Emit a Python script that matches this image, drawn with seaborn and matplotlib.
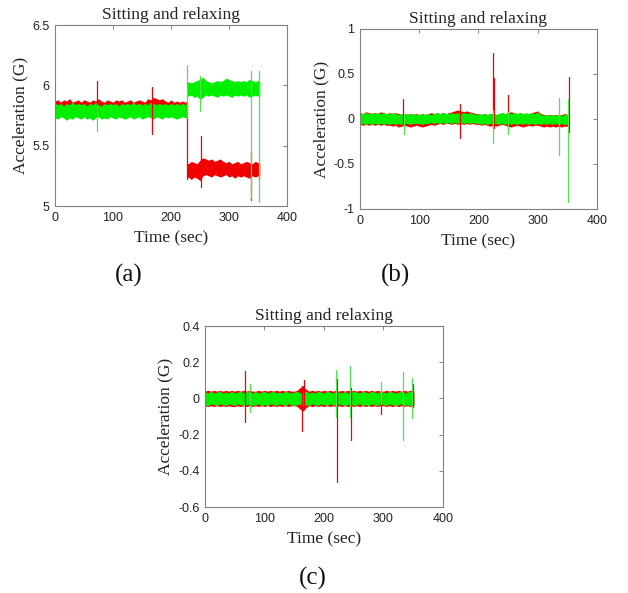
import numpy as np
import pandas as pd
import matplotlib
matplotlib.use("Agg")
import matplotlib.pyplot as plt
import seaborn as sns

# ---------------- data ----------------
TITLE = "Sitting and relaxing"
XLABEL = "Time (sec)"
YLABEL = "Acceleration (G)"
PANEL_LABELS = ["(a)", "(b)", "(c)"]

x_ticks = [0, 100, 200, 300, 400]
y_ticks_a = [5, 5.5, 6, 6.5]
y_ticklabels_a = ["5", "5.5", "6", "6.5"]
y_ticks_b = [-1, -0.5, 0, 0.5, 1]
y_ticklabels_b = ["-1", "-0.5", "0", "0.5", "1"]
y_ticks_c = [-0.6, -0.4, -0.2, 0, 0.2, 0.4]
y_ticklabels_c = ["-0.6", "-0.4", "-0.2", "0", "0.2", "0.4"]

# ---- panel (a): noise-band envelopes, before and after the step at ~227 s
t_a1 = [0, 5, 10, 15, 20, 25, 30, 35, 40, 45,
        50, 55, 60, 65, 70, 75, 80, 85, 90, 95,
        100, 105, 110, 115, 120, 125, 130, 135, 140, 145,
        150, 155, 160, 165, 170, 175, 180, 185, 190, 195,
        200, 205, 210, 215, 220, 225, 226.5]
red_a1_hi = [5.87, 5.88, 5.86, 5.88, 5.87, 5.89, 5.86, 5.87, 5.88, 5.86,
             5.88, 5.87, 5.86, 5.88, 5.87, 5.89, 5.87, 5.86, 5.88, 5.87,
             5.86, 5.88, 5.87, 5.88, 5.86, 5.87, 5.88, 5.86, 5.87, 5.88,
             5.87, 5.86, 5.89, 5.88, 5.90, 5.89, 5.88, 5.89, 5.87, 5.86,
             5.88, 5.86, 5.87, 5.86, 5.87, 5.86, 5.87]
red_a1_lo = [5.80, 5.79, 5.80, 5.78, 5.80, 5.79, 5.80, 5.79, 5.78, 5.80,
             5.79, 5.80, 5.78, 5.79, 5.80, 5.79, 5.80, 5.78, 5.79, 5.80,
             5.79, 5.80, 5.79, 5.78, 5.80, 5.79, 5.80, 5.79, 5.78, 5.80,
             5.79, 5.80, 5.78, 5.79, 5.80, 5.79, 5.78, 5.80, 5.79, 5.80,
             5.79, 5.80, 5.79, 5.78, 5.80, 5.79, 5.80]
green_a1_hi = [5.85, 5.84, 5.85, 5.83, 5.85, 5.84, 5.86, 5.84, 5.85, 5.84,
               5.85, 5.83, 5.85, 5.84, 5.86, 5.84, 5.83, 5.85, 5.84, 5.85,
               5.84, 5.85, 5.83, 5.85, 5.84, 5.85, 5.84, 5.86, 5.84, 5.85,
               5.84, 5.85, 5.84, 5.86, 5.85, 5.84, 5.85, 5.84, 5.85, 5.84,
               5.85, 5.84, 5.85, 5.84, 5.85, 5.84, 5.85]
green_a1_lo = [5.73, 5.72, 5.74, 5.73, 5.71, 5.73, 5.72, 5.74, 5.73, 5.72,
               5.74, 5.72, 5.73, 5.71, 5.73, 5.74, 5.72, 5.73, 5.72, 5.74,
               5.73, 5.72, 5.74, 5.73, 5.72, 5.73, 5.74, 5.72, 5.73, 5.74,
               5.72, 5.73, 5.74, 5.73, 5.72, 5.74, 5.73, 5.72, 5.74, 5.73,
               5.74, 5.73, 5.72, 5.73, 5.74, 5.73, 5.73]
t_a2 = [227, 230, 235, 240, 245, 250, 255, 260, 265, 270,
        275, 280, 285, 290, 295, 300, 305, 310, 315, 320,
        325, 330, 335, 340, 345, 350, 353]
red_a2_hi = [5.36, 5.35, 5.37, 5.36, 5.35, 5.38, 5.40, 5.39, 5.38, 5.39,
             5.37, 5.38, 5.39, 5.37, 5.36, 5.37, 5.35, 5.36, 5.37, 5.35,
             5.36, 5.37, 5.36, 5.35, 5.37, 5.36, 5.35]
red_a2_lo = [5.23, 5.24, 5.22, 5.24, 5.23, 5.21, 5.25, 5.26, 5.25, 5.24,
             5.26, 5.25, 5.24, 5.25, 5.26, 5.24, 5.25, 5.23, 5.25, 5.24,
             5.25, 5.24, 5.23, 5.25, 5.24, 5.25, 5.25]
green_a2_hi = [6.02, 6.03, 6.02, 6.03, 6.04, 6.05, 6.07, 6.04, 6.03, 6.02,
               6.03, 6.04, 6.03, 6.04, 6.06, 6.05, 6.04, 6.03, 6.04, 6.03,
               6.04, 6.03, 6.05, 6.04, 6.03, 6.04, 6.03]
green_a2_lo = [5.92, 5.91, 5.92, 5.90, 5.91, 5.88, 5.90, 5.92, 5.91, 5.92,
               5.91, 5.90, 5.92, 5.91, 5.92, 5.91, 5.90, 5.92, 5.91, 5.92,
               5.91, 5.92, 5.90, 5.91, 5.92, 5.91, 5.91]
red_a_spk_t = [72, 168, 227, 251, 338, 352]
red_a_spk_lo = [5.78, 5.60, 5.22, 5.16, 5.05, 5.22]
red_a_spk_hi = [6.04, 5.99, 5.86, 5.58, 5.46, 5.36]
green_a_spk_t = [72, 227, 250, 338, 352]
green_a_spk_lo = [5.62, 5.73, 5.79, 5.07, 5.03]
green_a_spk_hi = [5.84, 6.17, 6.08, 6.12, 6.12]

# ---- panels (b) and (c): common time grid of the envelopes
t_bc = [0, 5, 10, 15, 20, 25, 30, 35, 40, 45,
        50, 55, 60, 65, 70, 75, 80, 85, 90, 95,
        100, 105, 110, 115, 120, 125, 130, 135, 140, 145,
        150, 155, 160, 165, 170, 175, 180, 185, 190, 195,
        200, 205, 210, 215, 220, 225, 230, 235, 240, 245,
        250, 255, 260, 265, 270, 275, 280, 285, 290, 295,
        300, 305, 310, 315, 320, 325, 330, 335, 340, 345,
        351]

red_b_hi = [0.07, 0.06, 0.08, 0.07, 0.06, 0.07, 0.06, 0.08, 0.07, 0.06,
            0.07, 0.06, 0.07, 0.06, 0.05, 0.06, 0.05, 0.06, 0.05, 0.06,
            0.05, 0.06, 0.05, 0.06, 0.07, 0.06, 0.07, 0.06, 0.07, 0.06,
            0.07, 0.08, 0.09, 0.10, 0.09, 0.08, 0.09, 0.08, 0.07, 0.06,
            0.06, 0.05, 0.06, 0.05, 0.06, 0.06, 0.05, 0.06, 0.07, 0.06,
            0.07, 0.08, 0.07, 0.06, 0.07, 0.06, 0.05, 0.06, 0.07, 0.08,
            0.09, 0.06, 0.05, 0.04, 0.05, 0.04, 0.05, 0.04, 0.05, 0.06,
            0.05]
red_b_lo = [-0.06, -0.07, -0.06, -0.07, -0.06, -0.07, -0.06, -0.07, -0.06, -0.07,
            -0.07, -0.08, -0.07, -0.09, -0.08, -0.07, -0.08, -0.09, -0.08, -0.07,
            -0.08, -0.09, -0.08, -0.07, -0.06, -0.07, -0.06, -0.05, -0.06, -0.05,
            -0.05, -0.06, -0.05, -0.06, -0.05, -0.06, -0.05, -0.06, -0.05, -0.06,
            -0.06, -0.07, -0.06, -0.07, -0.08, -0.07, -0.08, -0.07, -0.06, -0.07,
            -0.08, -0.09, -0.08, -0.07, -0.08, -0.09, -0.08, -0.07, -0.08, -0.07,
            -0.07, -0.08, -0.09, -0.08, -0.09, -0.08, -0.09, -0.08, -0.09, -0.08,
            -0.08]
green_b_hi = [0.07, 0.06, 0.07, 0.06, 0.07, 0.06, 0.07, 0.06, 0.07, 0.06,
              0.06, 0.07, 0.06, 0.05, 0.06, 0.05, 0.06, 0.05, 0.06, 0.05,
              0.05, 0.06, 0.05, 0.06, 0.05, 0.06, 0.07, 0.06, 0.07, 0.06,
              0.06, 0.07, 0.06, 0.07, 0.06, 0.07, 0.06, 0.07, 0.06, 0.05,
              0.06, 0.05, 0.06, 0.05, 0.06, 0.06, 0.05, 0.06, 0.07, 0.06,
              0.07, 0.06, 0.07, 0.06, 0.07, 0.06, 0.07, 0.06, 0.07, 0.06,
              0.08, 0.05, 0.04, 0.05, 0.04, 0.05, 0.04, 0.05, 0.04, 0.05,
              0.05]
green_b_lo = [-0.06, -0.05, -0.06, -0.05, -0.06, -0.05, -0.06, -0.05, -0.06, -0.05,
              -0.06, -0.05, -0.06, -0.05, -0.06, -0.05, -0.05, -0.06, -0.05, -0.05,
              -0.05, -0.06, -0.05, -0.05, -0.04, -0.05, -0.04, -0.05, -0.04, -0.05,
              -0.04, -0.05, -0.04, -0.05, -0.04, -0.05, -0.04, -0.05, -0.04, -0.05,
              -0.05, -0.06, -0.05, -0.06, -0.05, -0.06, -0.05, -0.06, -0.05, -0.06,
              -0.05, -0.06, -0.05, -0.06, -0.05, -0.06, -0.05, -0.06, -0.05, -0.06,
              -0.05, -0.06, -0.05, -0.06, -0.05, -0.06, -0.05, -0.06, -0.05, -0.06,
              -0.06]
red_b_spk_t = [73, 168, 224, 226, 250, 352]
red_b_spk_lo = [-0.05, -0.21, -0.05, -0.10, -0.14, -0.15]
red_b_spk_hi = [0.22, 0.17, 0.73, 0.45, 0.27, 0.47]
green_b_spk_t = [74, 224, 249, 336, 351]
green_b_spk_lo = [-0.17, -0.27, -0.17, -0.40, -0.92]
green_b_spk_hi = [0.05, 0.10, 0.08, 0.23, 0.22]

red_c_hi = [0.04, 0.045, 0.04, 0.045, 0.04, 0.045, 0.04, 0.045, 0.04, 0.045,
            0.04, 0.045, 0.04, 0.045, 0.04, 0.045, 0.04, 0.04, 0.045, 0.04,
            0.045, 0.04, 0.045, 0.04, 0.045, 0.04, 0.045, 0.04, 0.045, 0.04,
            0.04, 0.045, 0.06, 0.07, 0.05, 0.04, 0.045, 0.04, 0.045, 0.04,
            0.045, 0.04, 0.045, 0.04, 0.045, 0.04, 0.045, 0.04, 0.045, 0.04,
            0.045, 0.04, 0.045, 0.04, 0.045, 0.04, 0.045, 0.04, 0.045, 0.04,
            0.04, 0.045, 0.04, 0.045, 0.04, 0.045, 0.04, 0.045, 0.04, 0.045,
            0.04]
red_c_lo = [-0.04, -0.045, -0.04, -0.045, -0.04, -0.045, -0.04, -0.045, -0.04, -0.045,
            -0.045, -0.04, -0.045, -0.04, -0.045, -0.04, -0.045, -0.04, -0.045, -0.04,
            -0.045, -0.04, -0.045, -0.04, -0.045, -0.04, -0.045, -0.04, -0.045, -0.04,
            -0.04, -0.045, -0.06, -0.07, -0.05, -0.04, -0.045, -0.04, -0.045, -0.04,
            -0.045, -0.04, -0.045, -0.04, -0.045, -0.04, -0.045, -0.04, -0.045, -0.04,
            -0.045, -0.04, -0.045, -0.04, -0.045, -0.04, -0.045, -0.04, -0.045, -0.04,
            -0.04, -0.045, -0.04, -0.045, -0.04, -0.045, -0.04, -0.045, -0.04, -0.045,
            -0.04]
green_c_hi = [0.035, 0.03, 0.04, 0.03, 0.035, 0.04, 0.03, 0.035, 0.03, 0.04,
              0.03, 0.035, 0.04, 0.03, 0.04, 0.035, 0.03, 0.04, 0.03, 0.035,
              0.04, 0.03, 0.035, 0.04, 0.03, 0.035, 0.03, 0.04, 0.035, 0.03,
              0.035, 0.04, 0.03, 0.035, 0.04, 0.03, 0.035, 0.03, 0.04, 0.035,
              0.03, 0.04, 0.035, 0.03, 0.04, 0.035, 0.03, 0.04, 0.03, 0.035,
              0.04, 0.035, 0.03, 0.04, 0.035, 0.03, 0.04, 0.035, 0.03, 0.04,
              0.035, 0.03, 0.04, 0.035, 0.03, 0.035, 0.04, 0.03, 0.035, 0.04,
              0.03]
green_c_lo = [-0.035, -0.04, -0.03, -0.035, -0.04, -0.03, -0.035, -0.04, -0.03, -0.035,
              -0.04, -0.03, -0.035, -0.04, -0.035, -0.03, -0.04, -0.035, -0.03, -0.04,
              -0.035, -0.04, -0.03, -0.035, -0.04, -0.03, -0.035, -0.04, -0.03, -0.035,
              -0.04, -0.035, -0.03, -0.04, -0.035, -0.04, -0.03, -0.035, -0.04, -0.03,
              -0.035, -0.04, -0.03, -0.035, -0.04, -0.03, -0.035, -0.04, -0.035, -0.03,
              -0.04, -0.035, -0.03, -0.04, -0.035, -0.04, -0.03, -0.035, -0.04, -0.03,
              -0.035, -0.04, -0.03, -0.035, -0.04, -0.035, -0.03, -0.04, -0.035, -0.04,
              -0.035]
red_c_spk_t = [68, 163, 166, 222, 246, 296, 349]
red_c_spk_lo = [-0.13, -0.18, -0.05, -0.46, -0.23, -0.085, -0.05]
red_c_spk_hi = [0.15, 0.07, 0.10, 0.11, 0.06, 0.04, 0.08]
green_c_spk_t = [75, 221, 243, 296, 333, 348]
green_c_spk_lo = [-0.075, -0.10, -0.10, -0.03, -0.23, -0.11]
green_c_spk_hi = [0.08, 0.155, 0.18, 0.09, 0.145, 0.115]

RED = "#f00000"
GREEN = "#00f000"
GREEN_SPIKE = "#4fe34f"

# ---------------- drawing ----------------
sns.set_style("white")
plt.rcParams["font.family"] = ["Liberation Sans", "DejaVu Sans"]
plt.rcParams["path.simplify"] = False
SERIF = ["Liberation Serif", "DejaVu Serif"]

fig = plt.figure(figsize=(6.28, 5.93), dpi=100)
positions = [
    [0.0876, 0.6526, 0.3694, 0.3052],
    [0.5732, 0.6476, 0.3774, 0.3035],
    [0.3264, 0.1450, 0.3790, 0.3052],
]

panels = [
    dict(red=[(t_a1, red_a1_lo, red_a1_hi), (t_a2, red_a2_lo, red_a2_hi)],
         green=[(t_a1, green_a1_lo, green_a1_hi), (t_a2, green_a2_lo, green_a2_hi)],
         rs=(red_a_spk_t, red_a_spk_lo, red_a_spk_hi),
         gs=(green_a_spk_t, green_a_spk_lo, green_a_spk_hi),
         ylim=(5, 6.5), yt=y_ticks_a, ytl=y_ticklabels_a),
    dict(red=[(t_bc, red_b_lo, red_b_hi)], green=[(t_bc, green_b_lo, green_b_hi)],
         rs=(red_b_spk_t, red_b_spk_lo, red_b_spk_hi),
         gs=(green_b_spk_t, green_b_spk_lo, green_b_spk_hi),
         ylim=(-1, 1), yt=y_ticks_b, ytl=y_ticklabels_b),
    dict(red=[(t_bc, red_c_lo, red_c_hi)], green=[(t_bc, green_c_lo, green_c_hi)],
         rs=(red_c_spk_t, red_c_spk_lo, red_c_spk_hi),
         gs=(green_c_spk_t, green_c_spk_lo, green_c_spk_hi),
         ylim=(-0.6, 0.4), yt=y_ticks_c, ytl=y_ticklabels_c),
]

label_pos = [(129, 275), (395, 275), (313, 578)]


def spikes_frame(spk):
    ts, los, his = spk
    rows = []
    for k, (t, lo, hi) in enumerate(zip(ts, los, his)):
        rows.append({"t": t, "y": lo, "id": k})
        rows.append({"t": t, "y": hi, "id": k})
    return pd.DataFrame(rows)


for i, (p, pos) in enumerate(zip(panels, positions)):
    ax = fig.add_axes(pos)
    # red series: noise band + spikes
    for t, lo, hi in p["red"]:
        ax.fill_between(t, lo, hi, facecolor=RED, lw=0)
    sns.lineplot(data=spikes_frame(p["rs"]), x="t", y="y", units="id", estimator=None,
                 sort=False, color=RED, lw=0.9, ax=ax)
    # green series drawn on top
    for t, lo, hi in p["green"]:
        ax.fill_between(t, lo, hi, facecolor=GREEN, lw=0)
    sns.lineplot(data=spikes_frame(p["gs"]), x="t", y="y", units="id", estimator=None,
                 sort=False, color=GREEN_SPIKE, lw=0.9, ax=ax)

    ax.set_xlim(0, 400)
    ax.set_ylim(*p["ylim"])
    ax.set_xticks(x_ticks)
    ax.set_xticklabels([str(v) for v in x_ticks])
    ax.set_yticks(p["yt"])
    ax.set_yticklabels(p["ytl"])
    ax.tick_params(direction="in", length=3, width=0.6, color="#707070",
                   top=True, right=True, labelsize=9, pad=4, labelcolor="#222222")
    for s in ax.spines.values():
        s.set_visible(True)
        s.set_color("#808080")
        s.set_linewidth(0.8)
    ax.set_title(TITLE, fontsize=12.5, family=SERIF, pad=4, color="#222222")
    ax.set_xlabel(XLABEL, fontsize=12.5, family=SERIF, labelpad=5, color="#222222")
    ax.set_ylabel(YLABEL, fontsize=12.5, family=SERIF, labelpad=3, color="#222222")

    lx, ly = label_pos[i]
    fig.text(lx / 628, 1 - ly / 593, PANEL_LABELS[i], fontsize=18, family=SERIF,
             ha="center", va="center", color="#111111")

fig.savefig("out.png", dpi=100, facecolor="white")
